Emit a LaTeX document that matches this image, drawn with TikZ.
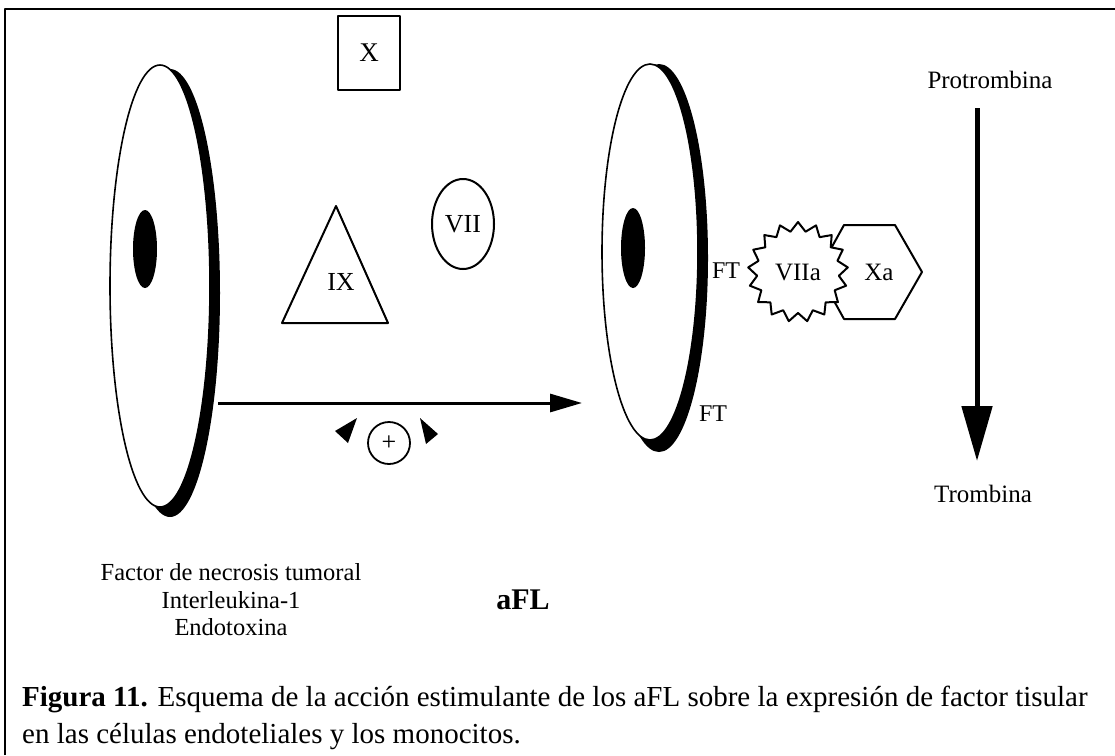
\documentclass[tikz,border=0pt]{standalone}
\usepackage{fontspec}
\setmainfont{Liberation Serif}
\usetikzlibrary{shapes.geometric,arrows.meta}
\begin{document}
\begin{tikzpicture}[x=1pt,y=-1pt,line join=round,
  lbl/.style={font=\fontsize{25}{28}\selectfont,inner sep=0pt},
  shp/.style={draw,line width=2pt,fill=white},
  disc/.style={draw,line width=1.6pt,fill=white},
  thick arrow/.style={line width=3pt,-{Triangle[length=32pt,width=18pt]}},
  big arrow/.style={line width=5pt,-{Triangle[length=55pt,width=30pt]}},
  wedge/.style={fill=black}]
\useasboundingbox (0,0) rectangle (1115,755);
% frame
\draw[line width=2pt] (5,755) -- (5,9) -- (1115,9);
% left disc
\fill (170,293) ellipse [x radius=50, y radius=224];
\path[disc] (160,286) ellipse [x radius=50, y radius=221];
\fill (145,249) ellipse [x radius=12, y radius=39];
% right disc
\fill (659,258) ellipse [x radius=49, y radius=194];
\path[disc] (650,252) ellipse [x radius=48, y radius=188];
\fill (633,248) ellipse [x radius=12, y radius=40];
% factors
\node[shp,draw,minimum width=62pt,minimum height=74pt,lbl,font=\fontsize{27}{30}\selectfont] (X) at (369,53) {X};
\draw[shp] (336,206) -- (388,323) -- (282,323) -- cycle;
\node[lbl,font=\fontsize{26}{30}\selectfont] (IX) at (341,282) {IX};
\node[shp,ellipse,minimum width=62pt,minimum height=90pt] (VII) at (463,224) {};
\node[lbl,font=\fontsize{26}{30}\selectfont] at (VII.center) {VII};
% horizontal arrow
\coordinate (hs) at (218,403);
\coordinate (he) at (582,403);
\draw[thick arrow] (hs) -- (he);
\node[draw,circle,line width=1.8pt,minimum size=42pt,inner sep=0pt,font=\fontsize{26}{26}\selectfont] (plus) at (389,443) {+};
\fill[wedge] (335,431) -- (357,418) -- (348,443) -- cycle;
\fill[wedge] (420,418) -- (438,434) -- (426,444) -- cycle;
% FT labels
\node[lbl,font=\fontsize{24}{28}\selectfont] (FT1) at (726,271) {FT};
\node[lbl,font=\fontsize{24}{28}\selectfont] (FT2) at (713,414) {FT};
% Xa hexagon
\draw[shp] (818,272) -- (844,225) -- (895,225) -- (922,272) -- (895,319) -- (844,319) -- cycle;
\node[lbl] (Xa) at (879,272) {Xa};
% VIIa star
\node[shp,star,star points=17,star point ratio=1.22,minimum size=100pt,inner sep=0pt] (VIIa) at (798,272) {};
\node[lbl] at (VIIa.center) {VIIa};
% prothrombin -> thrombin
\node[lbl] (pro) at (990,80) {Protrombina};
\node[lbl] (tro) at (983,494) {Trombina};
\coordinate (vs) at (977,108);
\coordinate (ve) at (977,461);
\draw[big arrow] (vs) -- (ve);
% bottom texts
\node[align=center,font=\fontsize{24.5}{27.5}\selectfont,inner sep=0pt] (stim) at (231,600) {Factor de necrosis tumoral\\Interleukina-1\\Endotoxina};
\node[font=\bfseries\fontsize{30}{32}\selectfont,inner sep=0pt] (aFL) at (523,600) {aFL};
\node[anchor=west,align=left,font=\fontsize{29}{37}\selectfont,inner sep=0pt] (cap) at (22,718) {\textbf{Figura 11.} Esquema de la acción estimulante de los aFL sobre la expresión de factor tisular\\en las células endoteliales y los monocitos.};
\end{tikzpicture}
\end{document}
